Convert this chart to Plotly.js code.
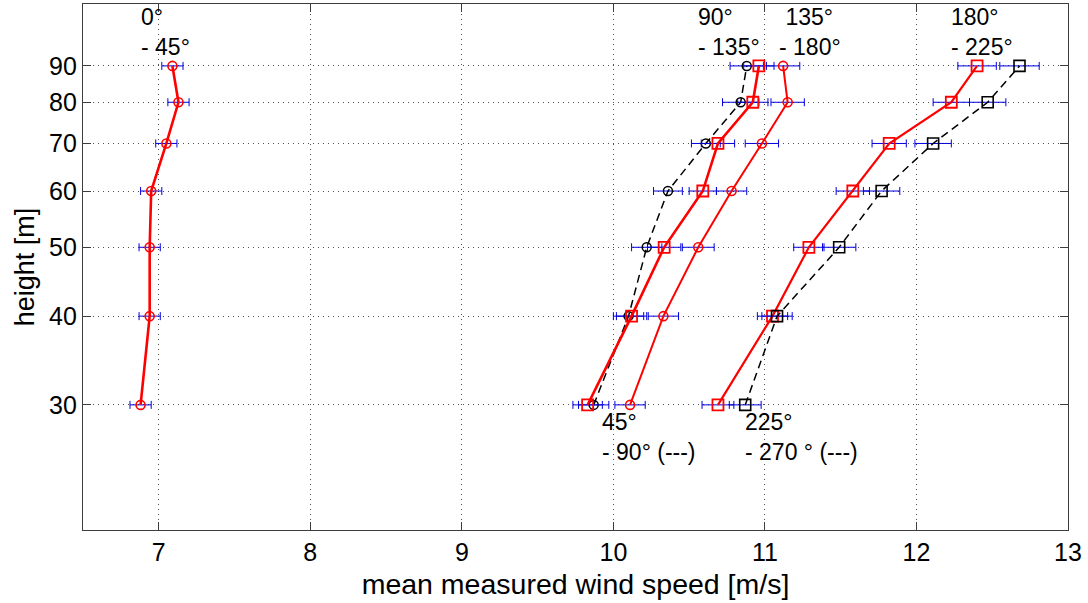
<!DOCTYPE html>
<html>
<head>
<meta charset="utf-8">
<script src="https://cdn.plot.ly/plotly-3.0.1.min.js"></script>
<style>
  html, body { margin: 0; padding: 0; background: #fff; }
  #chart { width: 1088px; height: 603px; }
</style>
</head>
<body>
<div id="chart"></div>
<script>
// Measurement heights [m]
const heights = [30, 40, 50, 60, 70, 80, 90];
const heightTickText = ['30', '40', '50', '60', '70', '80', '90'];
const speedTicks = [7, 8, 9, 10, 11, 12, 13];

// Mean wind speed per direction sector [m/s] and its uncertainty (+/-)
const sector0to45 = [6.88, 6.94, 6.94, 6.95, 7.05, 7.13, 7.09];
const sector0to45Err = [0.07, 0.07, 0.07, 0.07, 0.07, 0.07, 0.07];

const sector45to90 = [9.87, 10.10, 10.22, 10.36, 10.61, 10.84, 10.88];
const sector45to90Err = [0.10, 0.10, 0.10, 0.095, 0.095, 0.12, 0.11];

const sector90to135 = [9.83, 10.12, 10.335, 10.59, 10.69, 10.92, 10.96];
const sector90to135Err = [0.097, 0.10, 0.11, 0.09, 0.11, 0.10, 0.10];

const sector135to180 = [10.11, 10.33, 10.56, 10.78, 10.98, 11.15, 11.12];
const sector135to180Err = [0.10, 0.10, 0.105, 0.10, 0.11, 0.11, 0.11];

const sector180to225 = [10.69, 11.05, 11.29, 11.58, 11.82, 12.23, 12.40];
const sector180to225Err = [0.105, 0.10, 0.10, 0.11, 0.113, 0.12, 0.127];

const sector225to270 = [10.87, 11.08, 11.49, 11.77, 12.11, 12.47, 12.68];
const sector225to270Err = [0.105, 0.10, 0.11, 0.12, 0.12, 0.12, 0.13];

// Sector labels (two lines each): left edge in m/s, vertical centre in m
const labelText = ['0°<br>- 45°', '90°<br>- 135°', '\u00a0135°<br>- 180°', '180°<br>- 225°',
                   '45°<br>- 90° (---)', '225°<br>- 270 ° (---)'];
const labelX = [6.883, 10.558, 11.093, 12.228, 9.923, 10.868];
const labelY = [100.5, 100.5, 100.5, 100.5, 27.0, 27.0];

const FONT = '"Liberation Sans", Arial, Helvetica, sans-serif';
const RED = '#ff0000';
const BLACK = '#000000';
const BLUE = '#0000e0';

function errBars(arr) {
  return { type: 'data', array: arr, visible: true, color: BLUE, thickness: 1, width: 4 };
}

function profile(x, err, opts) {
  return {
    type: 'scatter',
    mode: 'lines+markers',
    x: x,
    y: heights,
    error_x: errBars(err),
    line: { color: opts.color, width: opts.width, dash: opts.dash || 'solid' },
    marker: {
      symbol: opts.symbol,
      size: opts.size,
      color: 'rgba(0,0,0,0)',
      line: { color: opts.color, width: opts.mwidth }
    },
    hoverinfo: 'x+y',
    showlegend: false
  };
}

const traces = [
  profile(sector0to45, sector0to45Err, { color: RED, width: 2.6, symbol: 'circle', size: 9, mwidth: 1.6 }),
  profile(sector45to90, sector45to90Err, { color: BLACK, width: 1.5, dash: '8px,5px', symbol: 'circle', size: 9, mwidth: 1.5 }),
  profile(sector90to135, sector90to135Err, { color: RED, width: 2.6, symbol: 'square', size: 11, mwidth: 1.8 }),
  profile(sector135to180, sector135to180Err, { color: RED, width: 2, symbol: 'circle', size: 9, mwidth: 1.6 }),
  profile(sector180to225, sector180to225Err, { color: RED, width: 2.2, symbol: 'square', size: 11, mwidth: 1.8 }),
  profile(sector225to270, sector225to270Err, { color: BLACK, width: 1.5, dash: '8px,5px', symbol: 'square', size: 11, mwidth: 1.6 })
];

const annotations = labelText.map((t, i) => ({
  text: t,
  x: labelX[i],
  y: Math.log10(labelY[i]),
  xref: 'x',
  yref: 'y',
  xanchor: 'left',
  yanchor: 'middle',
  align: 'left',
  borderpad: 0,
  borderwidth: 0,
  showarrow: false,
  font: { family: FONT, size: 23, color: '#000' }
}));

const axisCommon = {
  showline: true,
  linecolor: '#3c3c3c',
  linewidth: 1.2,
  mirror: 'ticks',
  ticks: 'inside',
  ticklen: 8,
  tickwidth: 1,
  tickcolor: '#3c3c3c',
  showgrid: true,
  gridcolor: '#505050',
  gridwidth: 1,
  griddash: '1px,4px',
  zeroline: false,
  tickfont: { family: FONT, size: 25, color: '#000' }
};

const layout = {
  width: 1088,
  height: 603,
  margin: { l: 83, r: 20, t: 4, b: 73 },
  paper_bgcolor: '#ffffff',
  plot_bgcolor: '#ffffff',
  font: { family: FONT, color: '#000' },
  xaxis: Object.assign({}, axisCommon, {
    range: [6.5, 13],
    tickmode: 'array',
    tickvals: speedTicks,
    ticktext: speedTicks.map(String),
    title: { text: 'mean measured wind speed [m/s]', font: { family: FONT, size: 28.5, color: '#000' }, standoff: 8 }
  }),
  yaxis: Object.assign({}, axisCommon, {
    type: 'log',
    range: [Math.log10(20), Math.log10(110)],
    tickmode: 'array',
    tickvals: heights,
    ticktext: heightTickText,
    title: { text: 'height [m]', font: { family: FONT, size: 27, color: '#000' }, standoff: 6 }
  }),
  annotations: annotations
};

Plotly.newPlot('chart', traces, layout, { displayModeBar: false, staticPlot: true });
</script>
</body>
</html>
